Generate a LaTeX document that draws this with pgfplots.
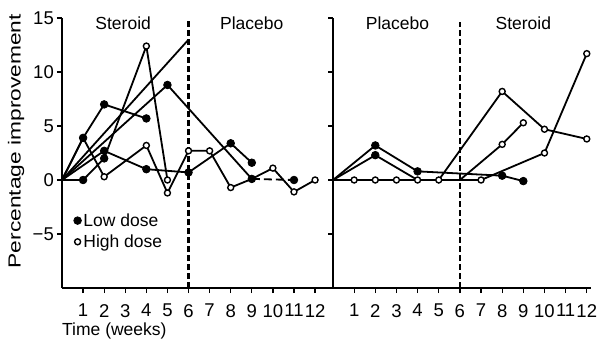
\documentclass[border=0pt]{standalone}
\usepackage{graphicx}
\usepackage{pgfplots}
\pgfplotsset{compat=1.18}
\usepackage{fontspec}
\setmainfont{Liberation Sans}
\newcommand{\bigf}{\fontsize{17.5}{21}\selectfont}
\newcommand{\tickf}{\fontsize{18.5}{21}\selectfont}
\begin{document}
\begin{tikzpicture}[font=\bigf]
\useasboundingbox (-62pt,-52pt) rectangle (535pt,288pt);
\pgfplotsset{
  panel/.style={
    scale only axis, height=270pt, ymin=-10, ymax=15, xmin=0,
    axis x line*=bottom, axis y line*=left,
    axis line style={line width=1.5pt, black},
    xtick={1,2,3,4,5,6,7,8,9,10,11,12},
    xticklabels={1,2,3,4,5,6,7,8,9,10,11,12},
    ytick={-5,0,5,10,15},
    tick align=outside, major tick length=5pt,
    tick style={line width=1.3pt, black},
    /pgf/number format/assume math mode=true,
    every tick label/.append style={font=\tickf},
    xticklabel style={inner sep=1pt, yshift=-10pt},
    yticklabel style={inner sep=3pt},
    clip=false,
  },
  ln/.style={black, line width=1.8pt, no markers, forget plot},
  filled/.style={only marks, mark=*, mark size=3.8pt, mark options={fill=black, draw=black, line width=0.8pt}},
  open/.style={only marks, mark=*, mark size=3.0pt, mark options={fill=white, draw=black, line width=1.4pt}},
  vdash/.style={black, line width=1.8pt, dash pattern=on 6pt off 3pt, no markers, forget plot},
}
% ---------- left panel: steroid then placebo ----------
\begin{axis}[panel, width=271pt, xmax=12.85, at={(0pt,0pt)}, anchor=south west,
  yticklabels={−5,0,5,10,15},
  legend style={at={(axis cs:0.55,-2.9)}, anchor=north west, draw=none, fill=none,
    font=\bigf, row sep=3pt, inner sep=0pt},
  legend cell align=left,
  legend image code/.code={\draw[#1] plot coordinates {(0.1cm,0cm)};},
]
\addplot[vdash, line width=2.2pt] coordinates {(6,-10) (6,15)};
\addplot[ln] coordinates {(0,0) (1,3.9) (2,7.0) (4,5.7)};
\addplot[ln] coordinates {(0,0) (1,3.9) (2,0.3) (4,3.2) (5,-1.2) (6,2.7) (7,2.7) (8,-0.7) (9,0.1) (10,1.1) (11,-1.1) (12,0)};
\addplot[ln] coordinates {(0,0) (1,0) (2,2.0) (4,12.4) (5,0)};
\addplot[ln] coordinates {(0,0) (2,2.7) (4,1.0) (6,0.7) (8,3.4) (9,1.6)};
\addplot[ln] coordinates {(0,0) (5,8.8) (9,0.1)};
\addplot[black, line width=1.8pt, dash pattern=on 8pt off 4pt, no markers, forget plot] coordinates {(9,0.1) (11,0)};
\addplot[ln] coordinates {(0,0) (6,13.0)};
\addplot[filled] coordinates {(1,3.9) (1,0) (2,7.0) (2,2.7) (2,2.0) (4,5.7) (4,1.0) (5,8.8) (6,0.7) (8,3.4) (9,1.6) (9,0.1) (11,0)};
\addlegendentry{Low dose}
\addplot[open] coordinates {(2,0.3) (4,12.4) (4,3.2) (5,0) (5,-1.2) (6,2.7) (7,2.7) (8,-0.7) (10,1.1) (11,-1.1) (12,0)};
\addlegendentry{High dose}
\node at (axis cs:2.9,14.5) {Steroid};
\node at (axis cs:9.0,14.5) {Placebo};
\node[rotate=90] at (axis cs:-2.18,3.6) {\scalebox{1.3}[1]{Percentage improvement}};
\node[anchor=west, inner sep=0pt] at (axis cs:0,-13.95) {Time (weeks)};
\end{axis}
% ---------- right panel: placebo then steroid ----------
\begin{axis}[panel, width=258pt, xmax=12.2, at={(271pt,0pt)}, anchor=south west,
  yticklabels={}]
\addplot[vdash] coordinates {(6,-10) (6,14.6)};
\addplot[ln] coordinates {(0,0) (2,3.2) (4,0.8) (8,0.4) (9,-0.1)};
\addplot[ln] coordinates {(0,0) (2,2.3) (4,0)};
\addplot[ln] coordinates {(0,0) (1,0) (2,0) (3,0) (4,0) (5,0) (8,8.2) (10,4.7) (12,3.8)};
\addplot[ln] coordinates {(0,0) (6,0) (8,3.3) (9,5.3)};
\addplot[ln] coordinates {(0,0) (7,0) (10,2.5) (12,11.7)};
\addplot[filled] coordinates {(2,3.2) (2,2.3) (4,0.8) (8,0.4) (9,-0.1)};
\addplot[open] coordinates {(1,0) (2,0) (3,0) (4,0) (5,0) (7,0) (8,8.2) (8,3.3) (9,5.3) (10,4.7) (10,2.5) (12,11.7) (12,3.8)};
\node at (axis cs:3.05,14.5) {Placebo};
\node at (axis cs:9.0,14.5) {Steroid};
\end{axis}
\end{tikzpicture}
\end{document}
